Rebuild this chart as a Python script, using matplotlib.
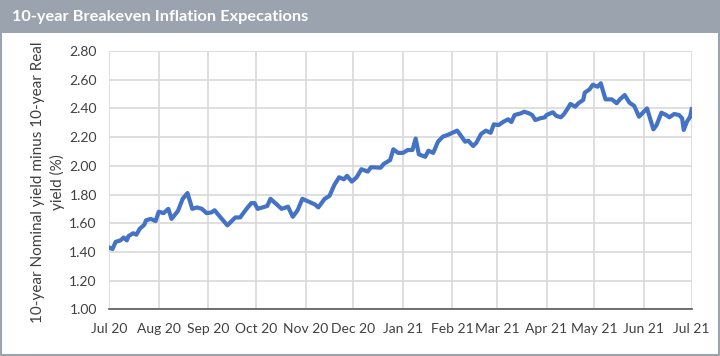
import matplotlib
matplotlib.use("Agg")
import matplotlib.pyplot as plt
import matplotlib.dates as mdates
from matplotlib.patches import Rectangle
import numpy as np

# 10-year breakeven inflation
dates = [
    "2020-07-01", "2020-07-03", "2020-07-05", "2020-07-08", "2020-07-10", "2020-07-12",
    "2020-07-13", "2020-07-16", "2020-07-18", "2020-07-20", "2020-07-23", "2020-07-24",
    "2020-07-27", "2020-07-30", "2020-08-01", "2020-08-04", "2020-08-07", "2020-08-09",
    "2020-08-13", "2020-08-16", "2020-08-19", "2020-08-22", "2020-08-25", "2020-08-28",
    "2020-08-31", "2020-09-03", "2020-09-05", "2020-09-08", "2020-09-13", "2020-09-18",
    "2020-09-21", "2020-09-25", "2020-09-28", "2020-09-30", "2020-10-02", "2020-10-08",
    "2020-10-10", "2020-10-13", "2020-10-17", "2020-10-21", "2020-10-24", "2020-10-27",
    "2020-10-30", "2020-11-03", "2020-11-07", "2020-11-09", "2020-11-13", "2020-11-16",
    "2020-11-19", "2020-11-22", "2020-11-25", "2020-11-27", "2020-11-30", "2020-12-03",
    "2020-12-06", "2020-12-10", "2020-12-12", "2020-12-18", "2020-12-20", "2020-12-24",
    "2020-12-26", "2020-12-29", "2021-01-01", "2021-01-04", "2021-01-07", "2021-01-09",
    "2021-01-11", "2021-01-15", "2021-01-17", "2021-01-20", "2021-01-23", "2021-01-26",
    "2021-01-29", "2021-02-01", "2021-02-04", "2021-02-06", "2021-02-09", "2021-02-11",
    "2021-02-14", "2021-02-16", "2021-02-19", "2021-02-22", "2021-02-25", "2021-02-27",
    "2021-03-02", "2021-03-05", "2021-03-08", "2021-03-10", "2021-03-12", "2021-03-16",
    "2021-03-18", "2021-03-21", "2021-03-23", "2021-03-25", "2021-03-28", "2021-03-31",
    "2021-04-01", "2021-04-05", "2021-04-07", "2021-04-10", "2021-04-12", "2021-04-14",
    "2021-04-16", "2021-04-19", "2021-04-21", "2021-04-24", "2021-04-25", "2021-04-28",
    "2021-04-30", "2021-05-03", "2021-05-05", "2021-05-08", "2021-05-12", "2021-05-15",
    "2021-05-17", "2021-05-20", "2021-05-23", "2021-05-26", "2021-05-29", "2021-05-31",
    "2021-06-03", "2021-06-07", "2021-06-09", "2021-06-12", "2021-06-15", "2021-06-17",
    "2021-06-20", "2021-06-23", "2021-06-25", "2021-06-26", "2021-06-28", "2021-06-30",
    "2021-07-01",
]
breakeven = [
    1.43, 1.42, 1.47, 1.48, 1.50, 1.48,
    1.51, 1.53, 1.52, 1.56, 1.59, 1.62,
    1.63, 1.615, 1.68, 1.67, 1.70, 1.63,
    1.685, 1.77, 1.81, 1.70, 1.71, 1.70,
    1.67, 1.675, 1.69, 1.65, 1.585, 1.64,
    1.64, 1.70, 1.74, 1.74, 1.70, 1.72,
    1.77, 1.74, 1.70, 1.715, 1.645, 1.69,
    1.77, 1.75, 1.73, 1.71, 1.77, 1.79,
    1.866, 1.92, 1.906, 1.93, 1.89, 1.92,
    1.976, 1.96, 1.99, 1.987, 2.013, 2.04,
    2.115, 2.09, 2.09, 2.11, 2.11, 2.19,
    2.08, 2.063, 2.105, 2.09, 2.168, 2.203,
    2.215, 2.23, 2.245, 2.215, 2.168, 2.175,
    2.138, 2.16, 2.222, 2.245, 2.23, 2.289,
    2.284, 2.307, 2.324, 2.305, 2.354, 2.366,
    2.377, 2.366, 2.354, 2.319, 2.331, 2.338,
    2.354, 2.373, 2.349, 2.338, 2.361, 2.394,
    2.431, 2.412, 2.436, 2.459, 2.51, 2.533,
    2.565, 2.551, 2.575, 2.463, 2.463, 2.436,
    2.463, 2.493, 2.44, 2.417, 2.342, 2.366,
    2.40, 2.254, 2.284, 2.37, 2.354, 2.338,
    2.361, 2.354, 2.331, 2.25, 2.307, 2.342,
    2.394,
]

title = "10-year Breakeven Inflation Expecations"
ylabel_lines = ["10-year Nominal yield minus 10-year Real", "yield (%)"]

plt.rcParams["font.family"] = ["Lato", "DejaVu Sans"]

x = np.array(dates, dtype="datetime64[D]")

fig = plt.figure(figsize=(7.2, 3.56), dpi=100)
ax = fig.add_axes([0.1518, 0.1312, 0.8089, 0.7255])

# title bar and outer frame
fig.patches.append(Rectangle((0, 1 - 33 / 356), 1, 33 / 356, transform=fig.transFigure,
                             facecolor="#9ba4ae", edgecolor="none", zorder=0))
fig.patches.append(Rectangle((0.001, 0.002), 0.997, 0.996, transform=fig.transFigure,
                             facecolor="none", edgecolor="#9ba4ae", linewidth=1.5, zorder=1))
fig.text(12 / 720, 1 - 17 / 356, title, color="white", fontsize=11.8, fontweight="bold",
         va="center", ha="left")

ax.plot(x, breakeven, color="#4472c4", linewidth=3.0, solid_joinstyle="round", zorder=3)

ax.set_ylim(1.0, 2.8)
ax.set_yticks(np.arange(1.0, 2.81, 0.2))
ax.yaxis.set_major_formatter(plt.FuncFormatter(lambda v, p: f"{v:.2f}"))
ax.set_xlim(np.datetime64("2020-07-01"), np.datetime64("2021-07-01"))
ax.xaxis.set_major_locator(mdates.MonthLocator())
ax.xaxis.set_major_formatter(mdates.DateFormatter("%b %y"))

ax.grid(True, color="#d9d9d9", linewidth=1.2)
ax.set_axisbelow(True)
for s in ["top", "right", "left"]:
    ax.spines[s].set_visible(False)
ax.spines["bottom"].set_color("#595959")
ax.spines["bottom"].set_linewidth(1.2)
ax.tick_params(length=0, labelsize=10, colors="#404040", pad=10)
ax.tick_params(axis="y", pad=9)

# two-line axis title, each line centred on the plot
for xpix, line in zip([38, 57], ylabel_lines):
    fig.text(xpix / 720, 1 - 182 / 356, line, rotation=90, rotation_mode="anchor",
             fontsize=11, color="#404040", ha="center", va="center")

fig.savefig("out.png", dpi=100)
